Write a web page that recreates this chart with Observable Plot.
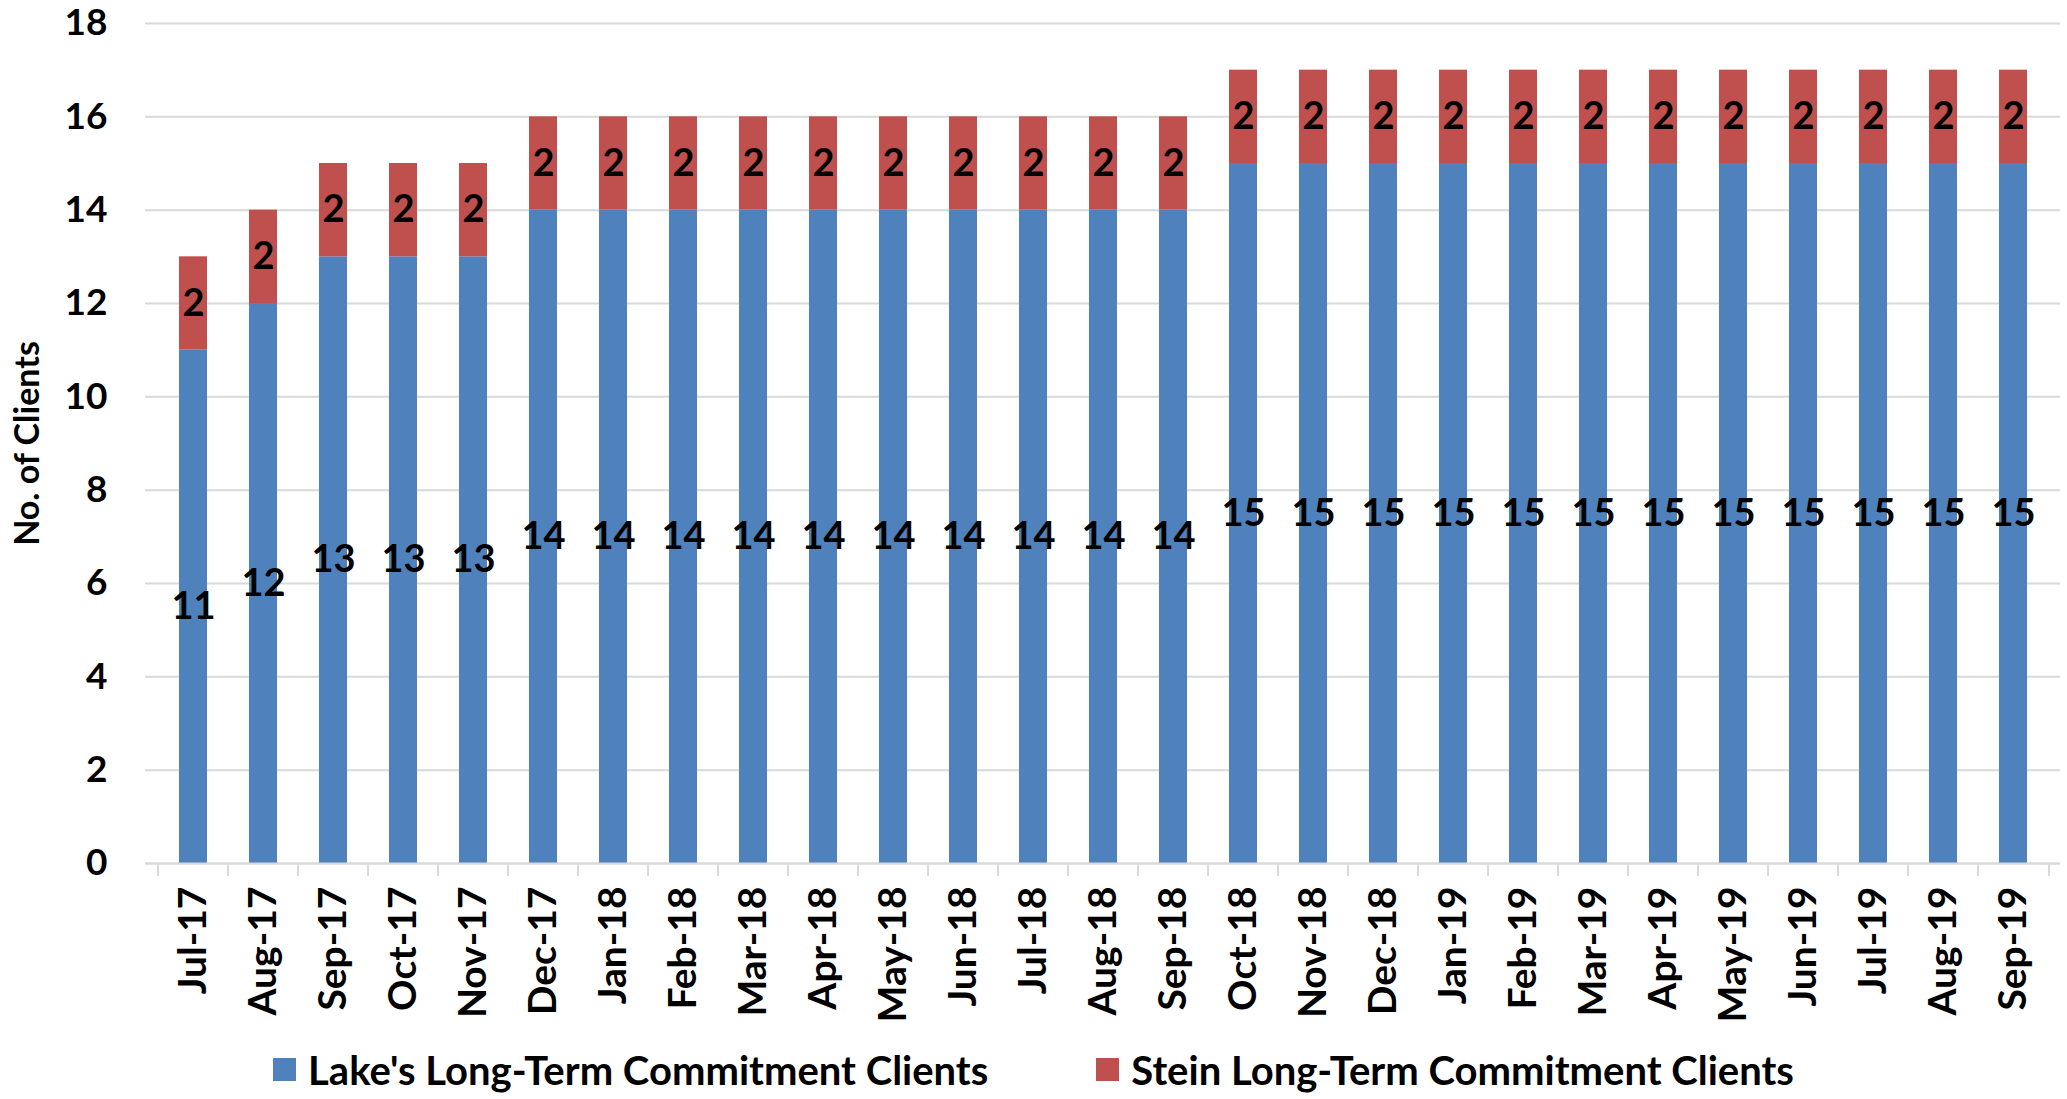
<!DOCTYPE html>
<html><head><meta charset="utf-8">
<script src="https://cdn.jsdelivr.net/npm/d3@7"></script>
<script src="https://cdn.jsdelivr.net/npm/@observablehq/plot@0.6"></script>
<style>
html,body{margin:0;padding:0;background:#fff;}
body{width:2067px;height:1099px;overflow:hidden;font-family:Lato,"Open Sans",sans-serif;}
#legend{display:flex;justify-content:center;align-items:center;height:59px;font-weight:bold;font-size:40px;color:#000;}
.item{display:flex;align-items:center;}
.item + .item{margin-left:108px;}
.sw{width:23px;height:23px;margin-right:12px;}
</style></head><body>
<div id="chart"></div>
<div id="legend"></div>
<script>
const months = ["Jul-17","Aug-17","Sep-17","Oct-17","Nov-17","Dec-17","Jan-18","Feb-18","Mar-18","Apr-18","May-18","Jun-18","Jul-18","Aug-18","Sep-18","Oct-18","Nov-18","Dec-18","Jan-19","Feb-19","Mar-19","Apr-19","May-19","Jun-19","Jul-19","Aug-19","Sep-19"];
const lakeValues = [11,12,13,13,13,14,14,14,14,14,14,14,14,14,14,15,15,15,15,15,15,15,15,15,15,15,15];
const steinValues = [2,2,2,2,2,2,2,2,2,2,2,2,2,2,2,2,2,2,2,2,2,2,2,2,2,2,2];
const seriesNames = ["Lake's Long-Term Commitment Clients","Stein Long-Term Commitment Clients"];
const seriesColors = ["#4F81BD","#C0504D"];
const yTicks = [0,2,4,6,8,10,12,14,16,18];
const yTitle = "No. of Clients";

const rows = [];
months.forEach((m,i)=>{
  rows.push({month:m, series:seriesNames[0], y1:0, y2:lakeValues[i], value:lakeValues[i]});
  rows.push({month:m, series:seriesNames[1], y1:lakeValues[i], y2:lakeValues[i]+steinValues[i], value:steinValues[i]});
});

const W = 2067, H = 1040, ML = 145, MR = 7, MT = 23, MB = H - 863;
const step = (W - ML - MR) / months.length;
const FONT = "Lato, 'Open Sans', sans-serif";

const chart = Plot.plot({
  width: W, height: H,
  marginLeft: ML, marginRight: MR, marginTop: MT, marginBottom: MB,
  style: {fontFamily: FONT, fontWeight: "bold", fontSize: "37px", color: "#000", background: "#fff", overflow: "visible"},
  x: {domain: months, paddingInner: 0.6, paddingOuter: 0.3, label: null},
  y: {domain: [0, 18], label: null},
  color: {domain: seriesNames, range: seriesColors},
  marks: [
    Plot.gridY(yTicks, {stroke: "#D9D9D9", strokeOpacity: 1, strokeWidth: 2}),
    Plot.barY(rows, {x: "month", y1: "y1", y2: "y2", fill: "series"}),
    Plot.ruleY([0], {stroke: "#D9D9D9", strokeWidth: 2}),
    Plot.axisX(months, {tickSize: 13, tickFormat: () => "", dx: -step/2, stroke: "#D9D9D9", strokeWidth: 2, strokeOpacity: 1}),
    Plot.axisX([months[months.length-1]], {tickSize: 13, tickFormat: () => "", dx: step/2, stroke: "#D9D9D9", strokeWidth: 2, strokeOpacity: 1}),
    Plot.axisX({tickSize: 0, tickPadding: 23, tickRotate: -90, fontSize: 39, fontWeight: "bold", fill: "#000", label: null}),
    Plot.axisY(yTicks, {tickSize: 0, tickPadding: 38, fontSize: 37, fontWeight: "bold", fill: "#000", label: null}),
    Plot.text([yTitle], {frameAnchor: "left", rotate: -90, dx: -(ML - 28), textAnchor: "middle", lineAnchor: "middle", fontSize: 34, fontWeight: "bold", fill: "#000"}),
    Plot.text(rows, {x: "month", y: d => (d.y1 + d.y2) / 2, text: "value", fontSize: 38, fontWeight: "bold", fill: "#000", lineAnchor: "middle"})
  ]
});
document.getElementById("chart").appendChild(chart);

const legend = document.getElementById("legend");
seriesNames.forEach((n,i)=>{
  const it = document.createElement("div"); it.className = "item";
  const sw = document.createElement("div"); sw.className = "sw"; sw.style.background = seriesColors[i];
  const tx = document.createElement("span"); tx.textContent = n;
  it.appendChild(sw); it.appendChild(tx); legend.appendChild(it);
});
</script>
</body></html>
